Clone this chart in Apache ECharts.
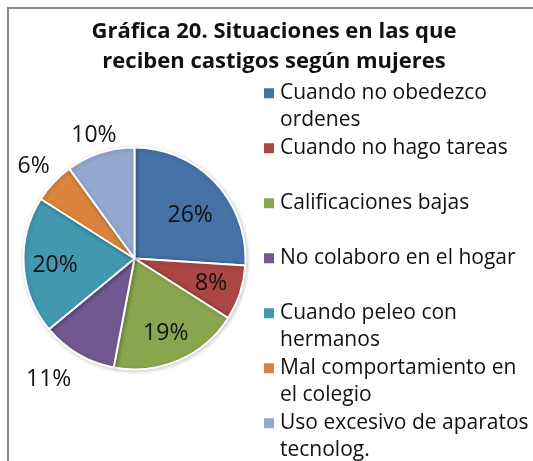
<!DOCTYPE html>
<html>
<head>
<meta charset="utf-8">
<script src="https://cdn.jsdelivr.net/npm/echarts@6/dist/echarts.min.js"></script>
<style>
  html, body { margin: 0; padding: 0; background: #fff; overflow: hidden; width: 533px; height: 461px; }
  .frame { position: absolute; left: 7px; top: 7px; width: 600px; height: 500px;
           border-left: 2px solid #8a8a8a; border-top: 2px solid #8a8a8a; }
  #chart { position: absolute; left: 9px; top: 9px; width: 530px; height: 460px; }
</style>
</head>
<body>
<div class="frame"></div>
<div id="chart"></div>
<script>
const titleText = 'Gráfica 20. Situaciones en las que\nreciben castigos según mujeres'

const categories = [
  'Cuando no obedezco\nordenes',
  'Cuando no hago tareas',
  'Calificaciones bajas',
  'No colaboro en el hogar',
  'Cuando peleo con\nhermanos',
  'Mal comportamiento en\nel colegio',
  'Uso excesivo de aparatos\ntecnolog.'
]
const percents = [26, 8, 19, 11, 20, 6, 10]

const sliceColors = ['#4572A7', '#AA4643', '#89A54E', '#71588F', '#4198AF', '#DB843D', '#93A9CF']

// where each % label sits, and a small nudge from echarts' own spot
const labelPlace = ['inside', 'inside', 'inside', 'outside', 'inside', 'outside', 'outside']
const labelNudge = [[13, -3], [21, 7], [8, 21], [6, 12], [-21, 3], [12, -6], [26, -3]]

const font = '"Open Sans", sans-serif'

const chart = echarts.init(document.getElementById('chart'))

chart.setOption({
  animation: false,
  color: sliceColors,
  title: {
    text: titleText,
    left: 'center',
    top: 8,
    padding: 0,
    textStyle: {
      fontFamily: font,
      fontSize: 22,
      fontWeight: 'bold',
      lineHeight: 30,
      color: '#111'
    }
  },
  legend: {
    orient: 'vertical',
    left: 253,
    top: 70,
    padding: 0,
    itemGap: 0,
    itemWidth: 12,
    itemHeight: 53,
    // square sits on the first text line
    icon: 'path://M0,0L0.01,0M0,7.25L12,7.25L12,19.25L0,19.25ZM12,53L11.99,53',
    formatter: name => name.includes('\n') ? name : name + '\n ',
    textStyle: {
      fontFamily: font,
      fontSize: 21,
      lineHeight: 26.5,
      color: '#111'
    },
    selectedMode: false
  },
  series: [{
    type: 'pie',
    center: [125.5, 249.5],
    radius: 111,
    startAngle: 90,
    clockwise: true,
    avoidLabelOverlap: false,
    data: categories.map((name, i) => ({
      name,
      value: percents[i],
      label: { position: labelPlace[i] }
    })),
    itemStyle: {
      borderColor: '#fff',
      borderWidth: 2,
      shadowBlur: 4,
      shadowColor: 'rgba(0,0,0,0.2)',
      shadowOffsetX: 1,
      shadowOffsetY: 1
    },
    label: {
      formatter: '{d}%',
      fontFamily: font,
      fontSize: 23,
      color: '#111',
      distanceToLabelLine: 5
    },
    labelLine: { show: false, length: 15, length2: 0 },
    labelLayout: p => ({ dx: labelNudge[p.dataIndex][0], dy: labelNudge[p.dataIndex][1] }),
    emphasis: { disabled: true }
  }]
})
</script>
</body>
</html>
